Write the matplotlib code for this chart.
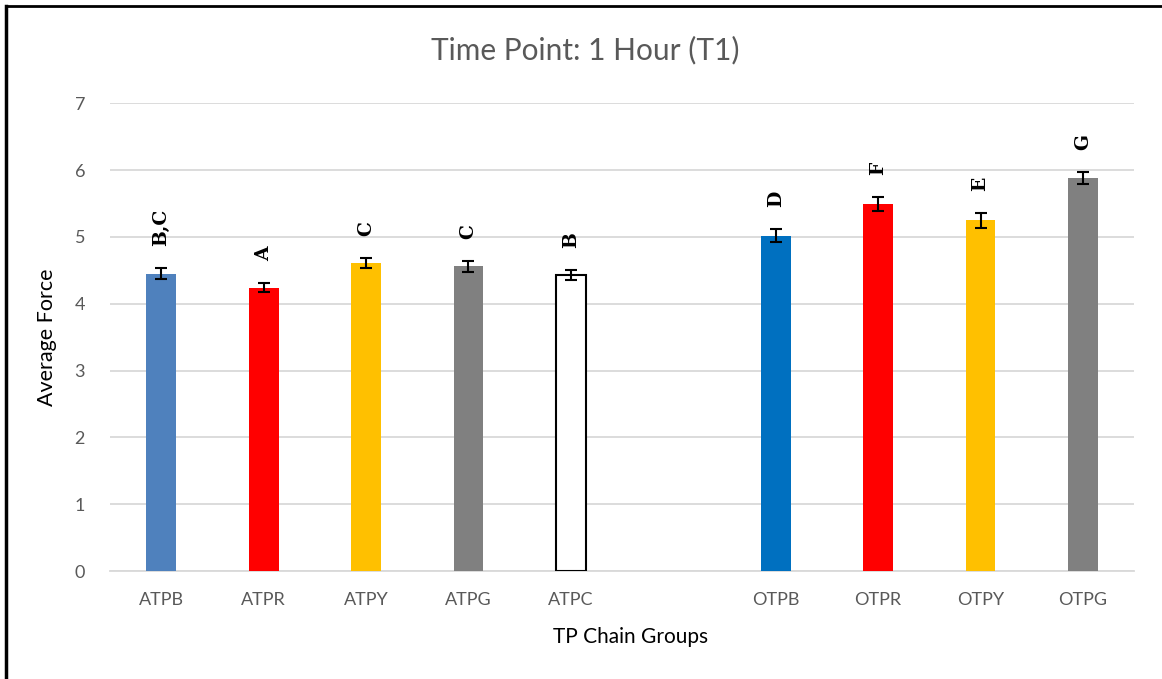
import matplotlib.pyplot as plt
from matplotlib.lines import Line2D

# Average force per TP chain group at T1 (blank slot separates AT and OT groups)
groups = ['ATPB', 'ATPR', 'ATPY', 'ATPG', 'ATPC', '', 'OTPB', 'OTPR', 'OTPY', 'OTPG']
forces = [4.45, 4.24, 4.61, 4.56, 4.43, None, 5.02, 5.49, 5.25, 5.88]
errors = [0.08, 0.07, 0.08, 0.08, 0.08, None, 0.10, 0.11, 0.11, 0.09]
letters = ['B,C', 'A', 'C', 'C', 'B', '', 'D', 'F', 'E', 'G']
colors = ['#4F81BD', '#FF0000', '#FFC000', '#808080', '#FFFFFF', None,
          '#0070C0', '#FF0000', '#FFC000', '#808080']

plt.rcParams['font.family'] = ['Lato', 'DejaVu Sans']

fig = plt.figure(figsize=(11.62, 6.79), dpi=100)
ax = fig.add_axes([0.0947, 0.159, 0.8813, 0.689])

for i, (f, e, c, lab) in enumerate(zip(forces, errors, colors, letters)):
    if f is None:
        continue
    edge = 'black' if c == '#FFFFFF' else c
    lw = 1.5 if c == '#FFFFFF' else 0
    ax.bar(i, f, width=0.29, color=c, edgecolor=edge, linewidth=lw, zorder=3)
    ax.errorbar(i, f, yerr=e, fmt='none', ecolor='black', elinewidth=1.5,
                capsize=4, capthick=1.5, zorder=4)
    ax.text(i, f + e + 0.33, lab, rotation=90, ha='center', va='bottom',
            fontsize=13.5, fontweight='bold', family='DejaVu Serif', color='black')

ax.set_xlim(-0.5, len(groups) - 0.5)
ax.set_ylim(0, 7)
ax.set_xticks(range(len(groups)))
ax.set_xticklabels(groups)
ax.set_yticks(range(0, 8))
ax.tick_params(axis='both', length=0, labelsize=13, labelcolor='#595959')
ax.tick_params(axis='x', pad=15)
ax.tick_params(axis='y', pad=18)
ax.yaxis.grid(True, color='#D9D9D9', linewidth=1.3, zorder=0)
ax.set_axisbelow(True)
for s in ['top', 'right', 'left']:
    ax.spines[s].set_visible(False)
ax.spines['bottom'].set_color('#D9D9D9')
ax.spines['bottom'].set_linewidth(1.3)

fig.text(585 / 1162, 1 - 50 / 679, 'Time Point: 1 Hour (T1)', fontsize=21.5,
         color='#595959', ha='center', va='center')
ax.set_xlabel('TP Chain Groups', fontsize=15, color='black')
ax.xaxis.set_label_coords(0.508, -0.12)
ax.set_ylabel('Average Force', fontsize=15.5, color='black')
ax.yaxis.set_label_coords(-0.052, 0.5)

# chart frame edges (top and left)
fig.add_artist(Line2D([0.0055, 1.0], [0.9905, 0.9905], color='black', linewidth=2))
fig.add_artist(Line2D([0.0055, 0.0055], [0.0, 0.9905], color='black', linewidth=2.5))

fig.savefig('out.png', dpi=100)
